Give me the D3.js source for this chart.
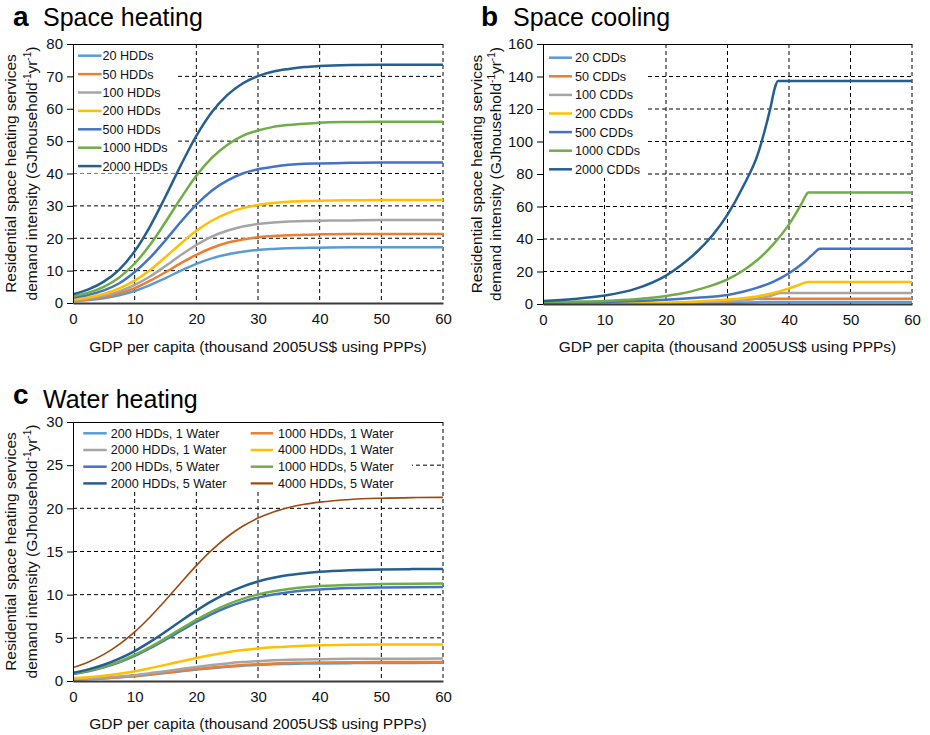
<!DOCTYPE html>
<html><head><meta charset="utf-8">
<script src="https://cdn.jsdelivr.net/npm/d3@7"></script>
<style>body{margin:0;background:#fff}svg{font-family:"Liberation Sans",Arial,Helvetica,sans-serif}</style>
</head><body><svg id="chart" width="930" height="735"></svg>
<script>
// ---------- data ----------
const gdpTicks = [0,10,20,30,40,50,60];
const gdp = [0,2.5,5,7.5,10,12.5,15,17.5,20,22.5,25,27.5,30,32.5,35,37.5,40,45,50,55,60];

const heatLabels = ["20 HDDs","50 HDDs","100 HDDs","200 HDDs","500 HDDs","1000 HDDs","2000 HDDs"];
const heat20   = [0.6,0.9,1.5,2.4,3.7,5.5,7.7,10.0,12.1,13.8,15.0,15.8,16.4,16.7,16.9,17.0,17.1,17.2,17.2,17.2,17.2];
const heat50   = [0.7,1.1,1.9,3.0,4.6,6.9,9.5,12.3,14.9,17.0,18.6,19.6,20.3,20.7,20.9,21.1,21.2,21.3,21.3,21.3,21.3];
const heat100  = [0.8,1.4,2.2,3.6,5.6,8.2,11.4,14.8,17.9,20.5,22.3,23.6,24.4,24.9,25.2,25.3,25.4,25.5,25.6,25.6,25.6];
const heat200  = [1.0,1.7,2.8,4.5,6.9,10.2,14.2,18.4,22.3,25.4,27.7,29.3,30.3,30.9,31.3,31.5,31.6,31.7,31.8,31.8,31.8];
const heat500  = [1.6,2.5,3.9,6.1,9.6,14.0,19.4,25.1,30.4,34.7,37.8,40.0,41.3,42.1,42.7,43.0,43.1,43.3,43.4,43.4,43.4];
const heat1000 = [2.1,3.2,5.0,7.9,12.2,18.0,25.0,32.4,39.3,44.8,48.8,51.6,53.3,54.4,55.0,55.4,55.7,55.9,56.0,56.0,56.0];
const heat2000 = [2.7,4.2,6.6,10.3,16.0,23.7,32.9,42.6,51.6,58.9,64.2,67.8,70.1,71.5,72.3,72.9,73.2,73.5,73.6,73.6,73.6];

const coolLabels = ["20 CDDs","50 CDDs","100 CDDs","200 CDDs","500 CDDs","1000 CDDs","2000 CDDs"];
const cool20   = [[0,0.01],[10,0.05],[20,0.15],[25,0.3],[30,0.6],[35,1.15],[36,1.3],[60,1.3]];
const cool50   = [[0,0.02],[10,0.1],[20,0.35],[25,0.75],[30,1.6],[32.5,2.3],[35,3.3],[60,3.3]];
const cool100  = [[0,0.05],[10,0.15],[20,0.5],[25,0.9],[30,1.7],[32.5,2.4],[35,3.5],[37,5.0],[38.7,6.7],[60,6.7]];
const cool200  = [[0,0.1],[10,0.3],[20,0.8],[25,1.5],[30,2.7],[32.5,3.6],[35,4.8],[37.5,6.8],[40,9.6],[42,12.3],[43.1,13.6],[60,13.6]];
const cool500  = [[0,0.8],[5,1.0],[10,1.3],[15,1.8],[20,2.6],[25,3.8],[30,5.5],[32.5,7.5],[35,10.2],[37.5,13.8],[40,18.9],[42.5,25.8],[44,31],[45,34],[60,34]];
const cool1000 = [[0,1.0],[5,1.4],[10,1.9],[15,2.9],[20,4.9],[22.5,6.4],[25,8.7],[27.5,11.5],[30,15.2],[32.5,20.5],[35,27.5],[37.5,37],[40,49],[41,55],[42,61.5],[42.7,66.5],[43.1,68.6],[60,68.6]];
const cool2000 = [[0,1.8],[5,3.1],[10,5.2],[15,9.3],[20,17.5],[22.5,24],[25,32],[27.5,42],[30,55],[32.5,72],[35,93],[36,106],[37,121],[37.7,133],[38.2,137.2],[60,137.2]];

const waterLabels = ["200 HDDs, 1 Water","1000 HDDs, 1 Water","2000 HDDs, 1 Water","4000 HDDs, 1 Water",
                     "200 HDDs, 5 Water","1000 HDDs, 5 Water","2000 HDDs, 5 Water","4000 HDDs, 5 Water"];
const water200w1  = [0.15,0.22,0.30,0.42,0.56,0.73,0.92,1.12,1.32,1.49,1.64,1.77,1.86,1.93,1.98,2.02,2.04,2.07,2.09,2.09,2.10];
const water1000w1 = [0.16,0.23,0.32,0.44,0.59,0.77,0.97,1.18,1.38,1.57,1.72,1.85,1.95,2.02,2.08,2.11,2.14,2.17,2.19,2.19,2.20];
const water2000w1 = [0.19,0.27,0.38,0.52,0.69,0.91,1.14,1.39,1.63,1.85,2.04,2.19,2.30,2.39,2.45,2.50,2.53,2.57,2.58,2.59,2.60];
const water4000w1 = [0.31,0.44,0.62,0.85,1.13,1.48,1.87,2.27,2.67,3.02,3.33,3.58,3.77,3.91,4.01,4.08,4.13,4.20,4.22,4.24,4.24];
const water200w5  = [0.80,1.13,1.58,2.17,2.91,3.80,4.79,5.82,6.84,7.76,8.54,9.17,9.66,10.02,10.28,10.47,10.60,10.76,10.83,10.87,10.89];
const water1000w5 = [0.83,1.17,1.64,2.25,3.02,3.93,4.96,6.04,7.09,8.04,8.85,9.51,10.01,10.39,10.66,10.86,10.99,11.16,11.23,11.27,11.29];
const water2000w5 = [0.95,1.35,1.88,2.59,3.47,4.53,5.71,6.95,8.15,9.25,10.18,10.94,11.52,11.95,12.27,12.49,12.65,12.83,12.92,12.96,12.98];
const water4000w5 = [1.56,2.21,3.09,4.24,5.69,7.42,9.35,11.38,13.36,15.15,16.68,17.92,18.87,19.58,20.10,20.47,20.72,21.03,21.17,21.24,21.27];

const palette = ["#5B9BD5","#ED7D31","#A5A5A5","#FFC000","#4472C4","#70AD47","#255E91","#9E480E"];

const xLabel = "GDP per capita (thousand 2005US$ using PPPs)";
const yLabel1 = "Residential space heating services";

// ---------- drawing ----------
const svg = d3.select("#chart");
const zip = arr => arr.map((v,i)=>[gdp[i], v]);

function panel(o, idx){
  const x = d3.scaleLinear().domain([0,60]).range([o.left,o.right]);
  const y = d3.scaleLinear().domain([0,o.ymax]).range([o.bottom,o.top]);
  const g = svg.append("g");
  const yt = d3.range(0, o.ymax + 1e-9, o.ystep);

  // gridlines
  g.selectAll(null).data(yt.filter(v=>v>0 && v<o.ymax)).join("line")
    .attr("x1",o.left).attr("x2",o.right).attr("y1",d=>y(d)).attr("y2",d=>y(d))
    .attr("stroke","#000").attr("stroke-width",1).attr("stroke-dasharray","4,3");
  g.selectAll(null).data(gdpTicks.filter(v=>v>0)).join("line")
    .attr("y1",o.top).attr("y2",o.bottom).attr("x1",d=>x(d)).attr("x2",d=>x(d))
    .attr("stroke","#000").attr("stroke-width",1).attr("stroke-dasharray","4,3");

  // legend background
  const lb = o.legendBox(y);
  g.append("rect").attr("x",lb.x0).attr("y",lb.y0).attr("width",lb.x1-lb.x0).attr("height",lb.y1-lb.y0).attr("fill","#fff");

  // lines
  const cid = "clip"+idx;
  svg.append("clipPath").attr("id",cid).append("rect")
    .attr("x",o.left).attr("y",o.top-2).attr("width",o.right-o.left).attr("height",o.bottom-o.top+2);
  const line = d3.line().x(d=>x(d[0])).y(d=>y(d[1])).curve(d3.curveMonotoneX);
  g.append("g").attr("clip-path",`url(#${cid})`).selectAll("path").data(o.series).join("path")
    .attr("d",s=>line(s.pts)).attr("fill","none").attr("stroke",s=>s.color)
    .attr("stroke-width",s=>s.w).attr("stroke-linejoin","round");

  // frame
  g.append("line").attr("x1",o.left).attr("x2",o.right).attr("y1",o.top+0.5).attr("y2",o.top+0.5).attr("stroke","#000");
  const ay = g.append("g").attr("transform",`translate(${o.left},0)`)
    .call(d3.axisLeft(y).tickValues(yt).tickSize(6).tickSizeOuter(0).tickPadding(4).tickFormat(d3.format("d")));
  ay.select(".domain").attr("stroke","#000");
  ay.selectAll("text").attr("font-size",15).attr("font-family","Liberation Sans, Arial, sans-serif").attr("fill","#111");
  const ax = g.append("g").attr("transform",`translate(0,${o.bottom})`)
    .call(d3.axisBottom(x).tickValues(gdpTicks).tickSize(0).tickPadding(10).tickFormat(d3.format("d")));
  ax.select(".domain").attr("stroke","#3a3a3a").attr("stroke-width",2);
  ax.selectAll("text").attr("font-size",15).attr("font-family","Liberation Sans, Arial, sans-serif").attr("fill","#111");

  // legend entries
  o.series.forEach((s,i)=>{
    const p = o.legendPos(i);
    g.append("line").attr("x1",p.x1).attr("x2",p.x2).attr("y1",p.y).attr("y2",p.y)
      .attr("stroke",s.color).attr("stroke-width",s.w===undefined?2.5:Math.max(s.w,2.2));
    g.append("text").attr("x",p.tx).attr("y",p.y).attr("dy","0.35em").attr("font-size",12.6).attr("fill","#111").text(s.label);
  });

  // titles
  svg.append("text").attr("x",o.letter[0]).attr("y",o.letter[1]).attr("font-size",28).attr("font-weight","bold").text(o.letter[2]);
  svg.append("text").attr("x",o.title[0]).attr("y",o.title[1]).attr("font-size",25).text(o.title[2]);

  // axis titles
  svg.append("text").attr("x",(o.left+o.right)/2).attr("y",o.xlabY).attr("text-anchor","middle").attr("font-size",15.5).attr("fill","#111").text(xLabel);
  const cy = (o.top+o.bottom)/2;
  svg.append("text").attr("transform",`translate(${o.ylab[0]},${cy}) rotate(-90)`).attr("text-anchor","middle")
    .attr("font-size",15.5).attr("fill","#111").text(yLabel1);
  const t2 = svg.append("text").attr("transform",`translate(${o.ylab[1]},${cy}) rotate(-90)`).attr("text-anchor","middle")
    .attr("font-size",15.5).attr("fill","#111");
  t2.append("tspan").text("demand intensity (GJhousehold");
  t2.append("tspan").attr("font-size",10).attr("dy",-6).text("-1");
  t2.append("tspan").attr("dy",6).text("yr");
  t2.append("tspan").attr("font-size",10).attr("dy",-6).text("-1");
  t2.append("tspan").attr("dy",6).text(")");
}

const heatSeries = [heat20,heat50,heat100,heat200,heat500,heat1000,heat2000]
  .map((v,i)=>({label:heatLabels[i], color:palette[i], w:2.5, pts:zip(v)}));
const coolSeries = [cool20,cool50,cool100,cool200,cool500,cool1000,cool2000]
  .map((v,i)=>({label:coolLabels[i], color:palette[i], w:2.5, pts:v}));
const waterSeries = [water200w1,water1000w1,water2000w1,water4000w1,water200w5,water1000w5,water2000w5,water4000w5]
  .map((v,i)=>({label:waterLabels[i], color:palette[i], w: i===7?1.6:2.5, pts:zip(v)}));

panel({
  left:73,right:443,top:44,bottom:303,ymax:80,ystep:10,series:heatSeries,
  legendBox:y=>({x0:73,x1:177,y0:44,y1:y(40)}),
  legendPos:i=>({x1:78,x2:101.5,tx:102.5,y:55.7+18.4*i}),
  letter:[13,26,"a"], title:[43,26,"Space heating"], xlabY:352, ylab:[15.5,36.5]
},0);

panel({
  left:543,right:912,top:44,bottom:304,ymax:160,ystep:20,series:coolSeries,
  legendBox:y=>({x0:543,x1:647,y0:44,y1:178}),
  legendPos:i=>({x1:549,x2:572,tx:575,y:57.7+18.6*i}),
  letter:[481,26,"b"], title:[513,26,"Space cooling"], xlabY:352, ylab:[481.5,500.5]
},1);

panel({
  left:73,right:443,top:422,bottom:681,ymax:30,ystep:5,series:waterSeries,
  legendBox:y=>({x0:73,x1:412,y0:422,y1:490}),
  legendPos:i=>{const c=i%2, r=Math.floor(i/2);
    return c===0?{x1:83.3,x2:106.7,tx:110.7,y:433.3+16.7*r}:{x1:250.7,x2:273,tx:278,y:433.3+16.7*r};},
  letter:[13,404,"c"], title:[43,408,"Water heating"], xlabY:729, ylab:[15.5,36.5]
},2);
</script></body></html>
